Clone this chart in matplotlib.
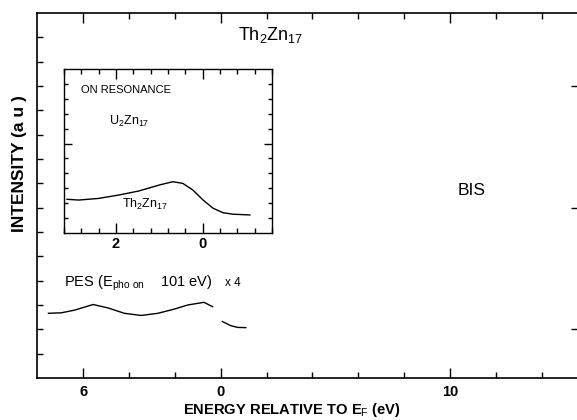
import matplotlib
matplotlib.use("Agg")
import matplotlib.pyplot as plt
from matplotlib.ticker import FixedLocator, MultipleLocator, NullFormatter

plt.rcParams['font.family'] = 'Liberation Sans'
plt.rcParams['mathtext.fontset'] = 'custom'
plt.rcParams['mathtext.rm'] = 'Liberation Sans'
plt.rcParams['mathtext.it'] = 'Liberation Sans:italic'
plt.rcParams['mathtext.bf'] = 'Liberation Sans:bold'

# PES curve (energy relative to EF, eV; below EF is negative)
pes_energy = [-7.53, -6.96, -6.39, -5.58, -4.93, -4.22, -3.48, -2.75, -2.04, -1.45, -0.74, -0.36]
pes_intensity = [2.66, 2.68, 2.79, 3.02, 2.88, 2.66, 2.57, 2.66, 2.83, 3.00, 3.11, 2.93]
# piece above EF
pes_edge_energy = [0.07, 0.43, 0.73, 1.09]
pes_edge_intensity = [2.32, 2.15, 2.08, 2.07]

# inset: on resonance, binding energy (eV)
inset_energy = [3.13, 2.86, 2.40, 1.93, 1.47, 1.00, 0.69, 0.46, 0.23, -0.01, -0.24, -0.47, -0.70, -1.09]
inset_intensity = [2.26, 2.21, 2.32, 2.55, 2.82, 3.22, 3.44, 3.33, 2.89, 2.21, 1.66, 1.36, 1.26, 1.21]

main_ticks = [-6, 0, 10]
main_ticklabels = ['6', '0', '10']
inset_ticks = [2, 0]
inset_ticklabels = ['2', '0']

fig = plt.figure(figsize=(5.77, 4.2), dpi=100)
ax = fig.add_axes([37/577, 0.1, 1 - 37/577, 0.869])

ax.plot(pes_energy, pes_intensity, color='black', lw=1.0)
ax.plot(pes_edge_energy, pes_edge_intensity, color='black', lw=1.0)

ax.set_xlim(-8.03, 15.55)
ax.set_ylim(0, 15)
ax.spines['right'].set_visible(False)
for s in ['left', 'bottom', 'top']:
    ax.spines[s].set_linewidth(1.2)

ax.xaxis.set_major_locator(FixedLocator(main_ticks))
ax.set_xticklabels(main_ticklabels, fontsize=10.5, fontweight='bold')
ax.xaxis.set_minor_locator(FixedLocator([-4, -2, 2, 4, 6, 8, 12, 14]))
ax.tick_params(axis='x', which='major', direction='in', length=7, width=1.0, top=True, pad=5)
ax.tick_params(axis='x', which='minor', direction='in', length=4, width=1.0, top=True)
ax.yaxis.set_major_locator(FixedLocator(range(1, 15)))
ax.yaxis.set_major_formatter(NullFormatter())
ax.tick_params(axis='y', which='major', direction='in', length=4, width=1.0)
# right side ticks only every fifth division
ax2 = ax.twinx()
ax2.set_ylim(0, 15)
ax2.yaxis.set_major_locator(FixedLocator([2, 7, 12]))
ax2.yaxis.set_major_formatter(NullFormatter())
ax2.tick_params(axis='y', direction='in', length=4, width=1.0)
for s in ax2.spines.values():
    s.set_visible(False)

ax.set_xlabel('ENERGY RELATIVE TO E$_\\mathrm{F}$ (eV)', fontsize=10.6, fontweight='bold')
ax.xaxis.set_label_coords(0.472, -0.062)
fig.text(0.033, 0.61, 'INTENSITY (a u )', rotation=90, fontsize=12.5, fontweight='bold',
         ha='center', va='center')

ax.text(0.74, 14.1, 'Th$_2$Zn$_{17}$', fontsize=13, ha='left', va='center')
ax.text(10.35, 7.69, 'BIS', fontsize=12.5, ha='left', va='center')
ax.text(-6.86, 3.9, 'PES (E$_{\\mathrm{pho\\ on}}$    101 eV)', fontsize=10.5, ha='left', va='center')
ax.text(0.17, 3.9, 'x 4', fontsize=8.5, ha='left', va='center')

# inset
ins = fig.add_axes([64/577, 1 - 233/420, 208/577, 164/420])
ins.plot(inset_energy, inset_intensity, color='black', lw=1.0)
ins.set_xlim(3.2, -1.6)
ins.set_ylim(0, 11)
for s in ins.spines.values():
    s.set_linewidth(1.0)
ins.xaxis.set_major_locator(FixedLocator(inset_ticks))
ins.set_xticklabels(inset_ticklabels, fontsize=10.5, fontweight='bold')
ins.xaxis.set_minor_locator(MultipleLocator(0.4))
ins.tick_params(axis='x', which='major', direction='in', length=7, width=1.0, top=True, pad=3)
ins.tick_params(axis='x', which='minor', direction='in', length=3.5, width=1.0, top=True)
ins.yaxis.set_major_locator(FixedLocator([6]))
ins.yaxis.set_minor_locator(FixedLocator([1, 2, 3, 4, 5, 7, 8, 9, 10]))
ins.yaxis.set_major_formatter(NullFormatter())
ins.tick_params(axis='y', which='major', direction='in', length=6, width=1.0, right=True)
ins.tick_params(axis='y', which='minor', direction='in', length=3, width=1.0, right=True)

ins.text(2.81, 9.6, 'ON RESONANCE', fontsize=8, ha='left', va='center')
ins.text(2.16, 7.5, 'U$_2$Zn$_{17}$', fontsize=9, ha='left', va='center')
ins.text(1.86, 1.9, 'Th$_2$Zn$_{17}$', fontsize=9, ha='left', va='center')

fig.savefig('out.png', dpi=100)
